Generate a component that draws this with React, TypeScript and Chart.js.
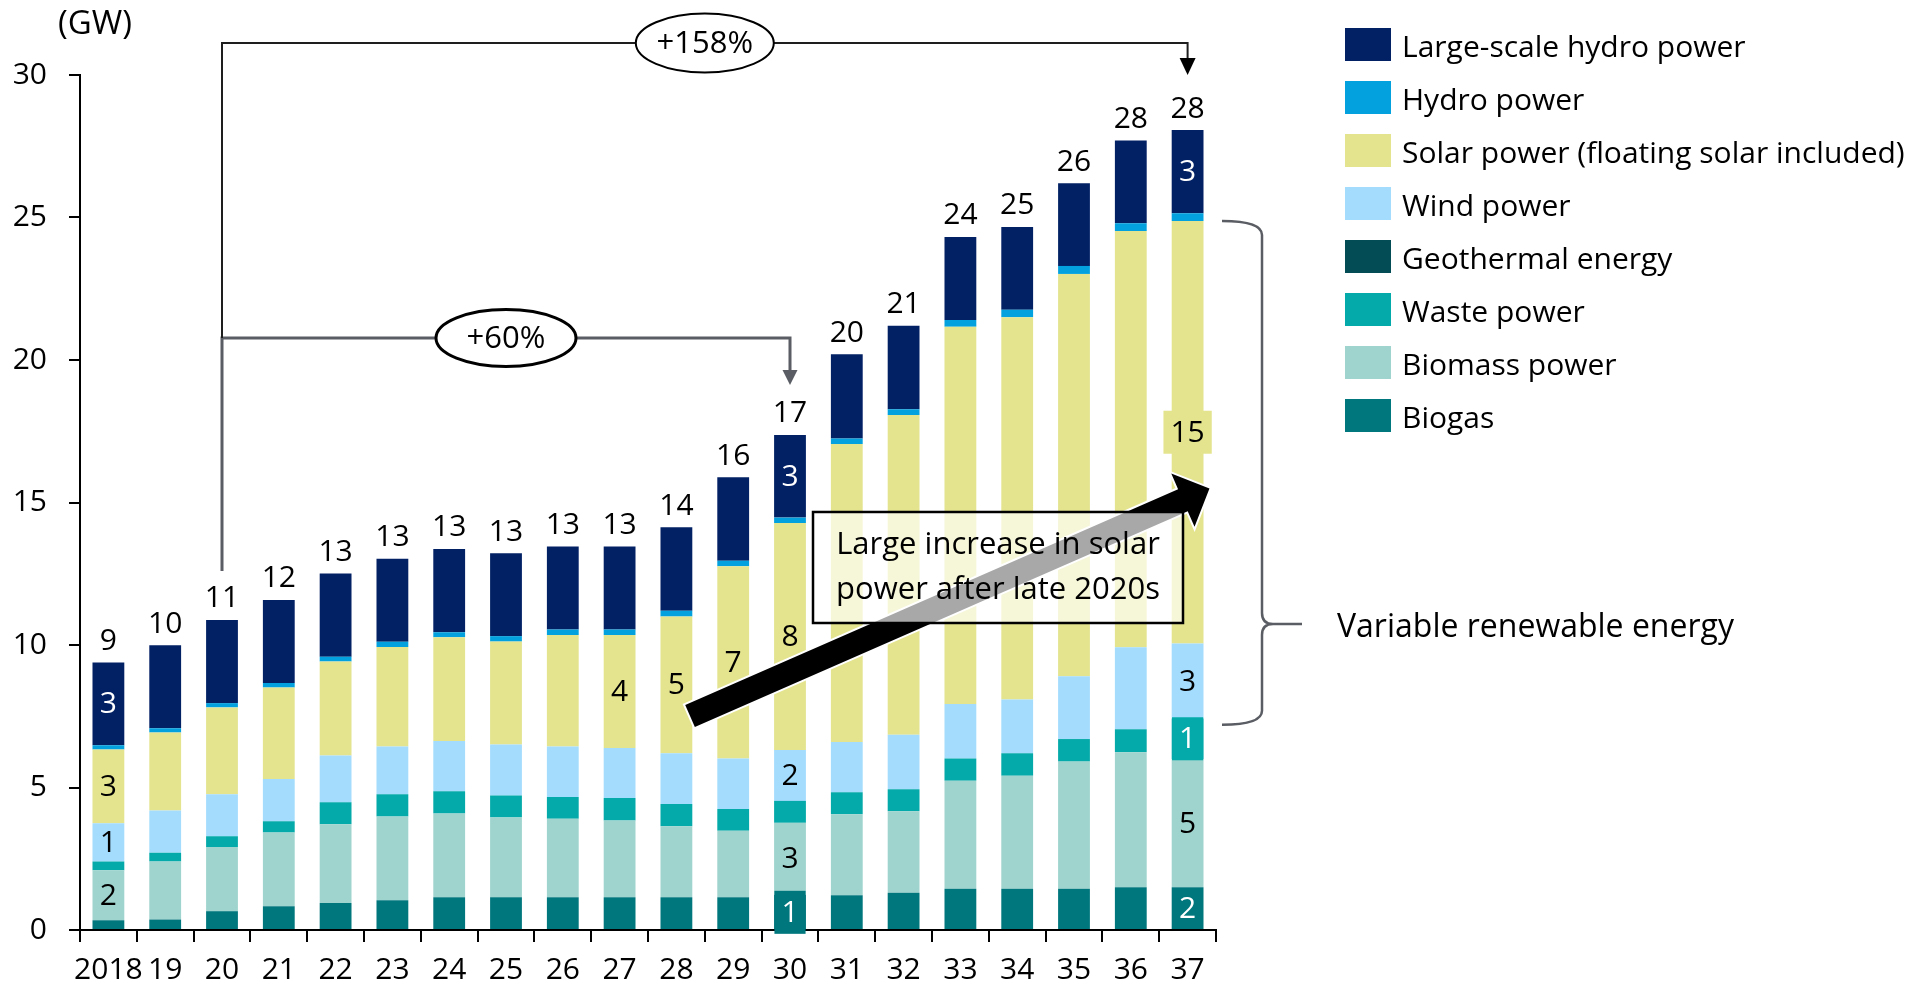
import React, { useEffect, useRef } from 'react';
import { Chart, registerables } from 'chart.js';

Chart.register(...registerables);

// ---------- data ----------
const years = ['2018', '19', '20', '21', '22', '23', '24', '25', '26', '27', '28', '29', '30', '31', '32', '33', '34', '35', '36', '37'];

const biogas = [0.34, 0.37, 0.66, 0.83, 0.95, 1.04, 1.15, 1.15, 1.15, 1.15, 1.15, 1.15, 1.24, 1.22, 1.31, 1.45, 1.45, 1.45, 1.5, 1.5];
const biomass = [1.76, 2.03, 2.25, 2.59, 2.76, 2.94, 2.94, 2.8, 2.75, 2.69, 2.49, 2.33, 2.52, 2.84, 2.86, 3.79, 3.96, 4.46, 4.74, 4.5];
const waste = [0.3, 0.31, 0.38, 0.4, 0.77, 0.78, 0.78, 0.77, 0.77, 0.79, 0.78, 0.77, 0.77, 0.77, 0.77, 0.78, 0.79, 0.79, 0.8, 1.42];
const geothermal = [0, 0, 0, 0, 0, 0, 0, 0, 0, 0, 0, 0, 0, 0, 0, 0, 0, 0, 0, 0];
const wind = [1.35, 1.48, 1.47, 1.48, 1.64, 1.68, 1.76, 1.79, 1.77, 1.76, 1.78, 1.77, 1.79, 1.77, 1.91, 1.91, 1.89, 2.2, 2.88, 2.63];
const solar = [2.58, 2.74, 3.05, 3.21, 3.3, 3.49, 3.64, 3.61, 3.91, 3.96, 4.8, 6.74, 7.96, 10.45, 11.22, 13.24, 13.41, 14.12, 14.61, 14.83];
const hydro = [0.15, 0.15, 0.15, 0.16, 0.17, 0.18, 0.18, 0.19, 0.19, 0.19, 0.2, 0.2, 0.19, 0.2, 0.2, 0.23, 0.26, 0.28, 0.27, 0.27];
const largeHydro = [2.91, 2.91, 2.92, 2.91, 2.92, 2.92, 2.92, 2.91, 2.92, 2.92, 2.93, 2.93, 2.9, 2.95, 2.93, 2.92, 2.91, 2.9, 2.9, 2.92];

// stack order, bottom to top
const seriesKeys = ['biogas', 'biomass', 'waste', 'geothermal', 'wind', 'solar', 'hydro', 'largeHydro'];
const seriesValues: Record<string, number[]> = { biogas, biomass, waste, geothermal, wind, solar, hydro, largeHydro };
const seriesNames: Record<string, string> = {
  largeHydro: 'Large-scale hydro power',
  hydro: 'Hydro power',
  solar: 'Solar power (floating solar included)',
  wind: 'Wind power',
  geothermal: 'Geothermal energy',
  waste: 'Waste power',
  biomass: 'Biomass power',
  biogas: 'Biogas',
};
const legendOrder = ['largeHydro', 'hydro', 'solar', 'wind', 'geothermal', 'waste', 'biomass', 'biogas'];

const yTickValues = [0, 5, 10, 15, 20, 25, 30];

// labelled segments: bar index, series key, whether the label has a coloured box
const segmentLabels = [
  { bar: 0, key: 'largeHydro', boxed: false },
  { bar: 0, key: 'solar', boxed: false },
  { bar: 0, key: 'wind', boxed: false },
  { bar: 0, key: 'biomass', boxed: false },
  { bar: 9, key: 'solar', boxed: false },
  { bar: 10, key: 'solar', boxed: false },
  { bar: 11, key: 'solar', boxed: false },
  { bar: 12, key: 'largeHydro', boxed: false },
  { bar: 12, key: 'solar', boxed: false },
  { bar: 12, key: 'wind', boxed: false },
  { bar: 12, key: 'biomass', boxed: false },
  { bar: 12, key: 'biogas', boxed: true },
  { bar: 19, key: 'largeHydro', boxed: false },
  { bar: 19, key: 'solar', boxed: true },
  { bar: 19, key: 'wind', boxed: false },
  { bar: 19, key: 'waste', boxed: true },
  { bar: 19, key: 'biomass', boxed: false },
  { bar: 19, key: 'biogas', boxed: false },
];

const growth158 = { from: 2, to: 19, text: '+158%' };
const growth60 = { from: 2, to: 12, text: '+60%' };
const calloutLines = ['Large increase in solar', 'power after late 2020s'];
const braceText = 'Variable renewable energy';
const unitText = '(GW)';

// ---------- styles ----------
const FONT = "'Open Sans', sans-serif";
const colors: Record<string, string> = {
  largeHydro: '#022064',
  hydro: '#03a2df',
  solar: '#e4e48f',
  wind: '#a3dcfd',
  geothermal: '#034c56',
  waste: '#03aaa9',
  biomass: '#9fd4ce',
  biogas: '#00777d',
};
const whiteText: Record<string, boolean> = { largeHydro: true, biogas: true, waste: true, geothermal: true };

const totals = years.map((_, i) => seriesKeys.reduce((s, k) => s + seriesValues[k][i], 0));

const overlayPlugin = {
  id: 'overlay',
  afterDatasetsDraw(chart: any) {
    const { ctx } = chart;
    const xs = chart.scales.x;
    const ys = chart.scales.y;
    const X = (i: number) => xs.getPixelForValue(i);
    const Y = (v: number) => ys.getPixelForValue(v);
    const barW = (X(1) - X(0)) * 0.56;

    ctx.save();

    // ---- big arrow ----
    const tail = { x: X(10.24), y: Y(7.51) };
    const tip = { x: X(19.385), y: Y(15.49) };
    const dx = tip.x - tail.x, dy = tip.y - tail.y;
    const len = Math.hypot(dx, dy);
    const ux = dx / len, uy = dy / len;
    const nx = -uy, ny = ux;
    const sh = 12, hh = 29, hl = 29;
    const bx = tip.x - ux * hl, by = tip.y - uy * hl;
    const pts = [
      [tail.x + nx * sh, tail.y + ny * sh],
      [bx + nx * sh, by + ny * sh],
      [bx + nx * hh, by + ny * hh],
      [tip.x, tip.y],
      [bx - nx * hh, by - ny * hh],
      [bx - nx * sh, by - ny * sh],
      [tail.x - nx * sh, tail.y - ny * sh],
    ];
    ctx.beginPath();
    pts.forEach(([px, py], k) => (k === 0 ? ctx.moveTo(px, py) : ctx.lineTo(px, py)));
    ctx.closePath();
    ctx.lineJoin = 'miter';
    ctx.strokeStyle = '#ffffff';
    ctx.lineWidth = 4;
    ctx.stroke();
    ctx.fillStyle = '#000000';
    ctx.fill();

    // ---- callout box ----
    const bx0 = X(12.405), bx1 = X(18.919);
    const by0 = Y(14.667), by1 = Y(10.772);
    ctx.fillStyle = 'rgba(255,255,255,0.66)';
    ctx.fillRect(bx0, by0, bx1 - bx0, by1 - by0);
    ctx.strokeStyle = '#000000';
    ctx.lineWidth = 2.5;
    ctx.strokeRect(bx0, by0, bx1 - bx0, by1 - by0);
    ctx.fillStyle = '#000000';
    ctx.font = `31px ${FONT}`;
    ctx.textAlign = 'center';
    ctx.textBaseline = 'middle';
    const cx = (bx0 + bx1) / 2, cy = (by0 + by1) / 2;
    ctx.fillText(calloutLines[0], cx, cy - 22);
    ctx.fillText(calloutLines[1], cx, cy + 23);

    // ---- segment labels ----
    ctx.font = `30px ${FONT}`;
    segmentLabels.forEach(({ bar, key, boxed }) => {
      const ki = seriesKeys.indexOf(key);
      let below = 0;
      for (let k = 0; k < ki; k++) below += seriesValues[seriesKeys[k]][bar];
      const v = seriesValues[key][bar];
      const yc = Y(below + v / 2);
      const xc = X(bar);
      const text = String(Math.round(v));
      if (boxed) {
        const w = Math.max(ctx.measureText(text).width + 14, barW - 3);
        ctx.fillStyle = colors[key];
        ctx.fillRect(xc - w / 2, yc - 21.5, w, 43);
      }
      ctx.fillStyle = whiteText[key] ? '#ffffff' : '#000000';
      ctx.textAlign = 'center';
      ctx.textBaseline = 'middle';
      ctx.fillText(text, xc, yc + 1);
    });

    // ---- totals ----
    ctx.fillStyle = '#000000';
    ctx.textAlign = 'center';
    ctx.textBaseline = 'alphabetic';
    totals.forEach((t, i) => {
      ctx.fillText(String(Math.round(t)), X(i), Y(t) - 12.5);
    });

    // ---- +60% bracket ----
    const lineY60 = Y(20.77);
    const startY = Y(12.6);
    ctx.strokeStyle = '#5a5d63';
    ctx.lineWidth = 3;
    ctx.beginPath();
    ctx.moveTo(X(growth60.from), startY);
    ctx.lineTo(X(growth60.from), lineY60);
    ctx.lineTo(X(growth60.to), lineY60);
    ctx.lineTo(X(growth60.to), Y(19.12) - 12);
    ctx.stroke();
    ctx.fillStyle = '#5a5d63';
    ctx.beginPath();
    ctx.moveTo(X(growth60.to) - 7.5, Y(19.12) - 15);
    ctx.lineTo(X(growth60.to) + 7.5, Y(19.12) - 15);
    ctx.lineTo(X(growth60.to), Y(19.12));
    ctx.closePath();
    ctx.fill();

    // ---- +158% bracket ----
    const lineY158 = Y(31.12);
    ctx.strokeStyle = '#1e1e1e';
    ctx.lineWidth = 2;
    ctx.beginPath();
    ctx.moveTo(X(growth158.from), lineY60);
    ctx.lineTo(X(growth158.from), lineY158);
    ctx.lineTo(X(growth158.to), lineY158);
    ctx.lineTo(X(growth158.to), Y(30) - 14);
    ctx.stroke();
    ctx.fillStyle = '#000000';
    ctx.beginPath();
    ctx.moveTo(X(growth158.to) - 8, Y(30) - 17);
    ctx.lineTo(X(growth158.to) + 8, Y(30) - 17);
    ctx.lineTo(X(growth158.to), Y(30));
    ctx.closePath();
    ctx.fill();

    // ellipses
    const ellipse = (x: number, y: number, rx: number, ry: number, text: string, lw: number) => {
      ctx.beginPath();
      ctx.ellipse(x, y, rx, ry, 0, 0, Math.PI * 2);
      ctx.fillStyle = '#ffffff';
      ctx.fill();
      ctx.strokeStyle = '#000000';
      ctx.lineWidth = lw;
      ctx.stroke();
      ctx.fillStyle = '#000000';
      ctx.font = `31px ${FONT}`;
      ctx.textAlign = 'center';
      ctx.textBaseline = 'middle';
      ctx.fillText(text, x, y + 1);
    };
    ellipse(X(10.5), lineY158, 69, 29.5, growth158.text, 2);
    ellipse(X(7), lineY60, 70, 28.5, growth60.text, 3);

    // ---- brace ----
    const last = years.length - 1;
    const edge = X(last) + barW / 2;
    const b0 = edge + 18.5, b1 = edge + 58.5;
    const topB = Y(24.88), botB = Y(7.2), midB = Y(10.74);
    ctx.strokeStyle = '#5a5d63';
    ctx.lineWidth = 2.5;
    ctx.beginPath();
    ctx.moveTo(b0, topB);
    ctx.quadraticCurveTo(b1, topB, b1, topB + 14);
    ctx.lineTo(b1, midB - 11);
    ctx.quadraticCurveTo(b1, midB, b1 + 11, midB);
    ctx.lineTo(b1 + 40, midB);
    ctx.moveTo(b1 + 11, midB);
    ctx.quadraticCurveTo(b1, midB, b1, midB + 11);
    ctx.lineTo(b1, botB - 14);
    ctx.quadraticCurveTo(b1, botB, b0, botB);
    ctx.stroke();
    ctx.fillStyle = '#000000';
    ctx.font = `32px ${FONT}`;
    ctx.textAlign = 'left';
    ctx.textBaseline = 'middle';
    ctx.fillText(braceText, b1 + 75, midB + 4);

    // ---- unit ----
    ctx.font = `33px ${FONT}`;
    ctx.textAlign = 'center';
    ctx.fillText(unitText, 95, 25);

    // ---- legend ----
    ctx.font = `30px ${FONT}`;
    legendOrder.forEach((key, i) => {
      const top = 28 + i * 53;
      ctx.fillStyle = colors[key];
      ctx.fillRect(1345, top, 46, 33);
      ctx.fillStyle = '#000000';
      ctx.textAlign = 'left';
      ctx.textBaseline = 'middle';
      ctx.fillText(seriesNames[key], 1402, top + 20);
    });

    ctx.restore();
  },
};

export default function App() {
  const ref = useRef<HTMLCanvasElement>(null);
  useEffect(() => {
    document.body.style.margin = '0';
    document.body.style.overflow = 'hidden';
    Chart.defaults.font.family = FONT;
    const canvas = ref.current!;
    const chart = new Chart(canvas, {
      type: 'bar',
      data: {
        labels: years,
        datasets: seriesKeys.map((k) => ({
          label: seriesNames[k],
          data: seriesValues[k],
          backgroundColor: colors[k],
          borderWidth: 0,
          barPercentage: 0.56,
          categoryPercentage: 1,
          stack: 'all',
        })),
      },
      options: {
        responsive: false,
        animation: false,
        devicePixelRatio: 1,
        layout: { padding: { top: 75, right: 711, left: 0, bottom: 0 } },
        plugins: { legend: { display: false }, tooltip: { enabled: false }, title: { display: false } },
        scales: {
          x: {
            stacked: true,
            grid: { display: true, drawOnChartArea: false, drawTicks: true, tickLength: 12, color: '#000000', lineWidth: 2, offset: true },
            border: { display: true, color: '#000000', width: 2 },
            ticks: { font: { family: FONT, size: 30 }, color: '#000000', padding: 10, maxRotation: 0, autoSkip: false },
            afterFit: (s: any) => { s.height = 55; },
          },
          y: {
            stacked: true,
            min: yTickValues[0],
            max: yTickValues[yTickValues.length - 1],
            ticks: { stepSize: 5, font: { family: FONT, size: 30 }, color: '#000000', padding: 22 },
            grid: { display: true, drawOnChartArea: false, tickLength: 11, color: '#000000', lineWidth: 2 },
            border: { display: true, color: '#000000', width: 2 },
            afterFit: (s: any) => { s.width = 80; },
          },
        },
      },
      plugins: [overlayPlugin],
    } as any);
    return () => chart.destroy();
  }, []);
  return (
    <canvas
      ref={ref}
      width={1927}
      height={985}
      style={{ position: 'absolute', left: 0, top: 0, width: '1927px', height: '985px', display: 'block' }}
    />
  );
}
